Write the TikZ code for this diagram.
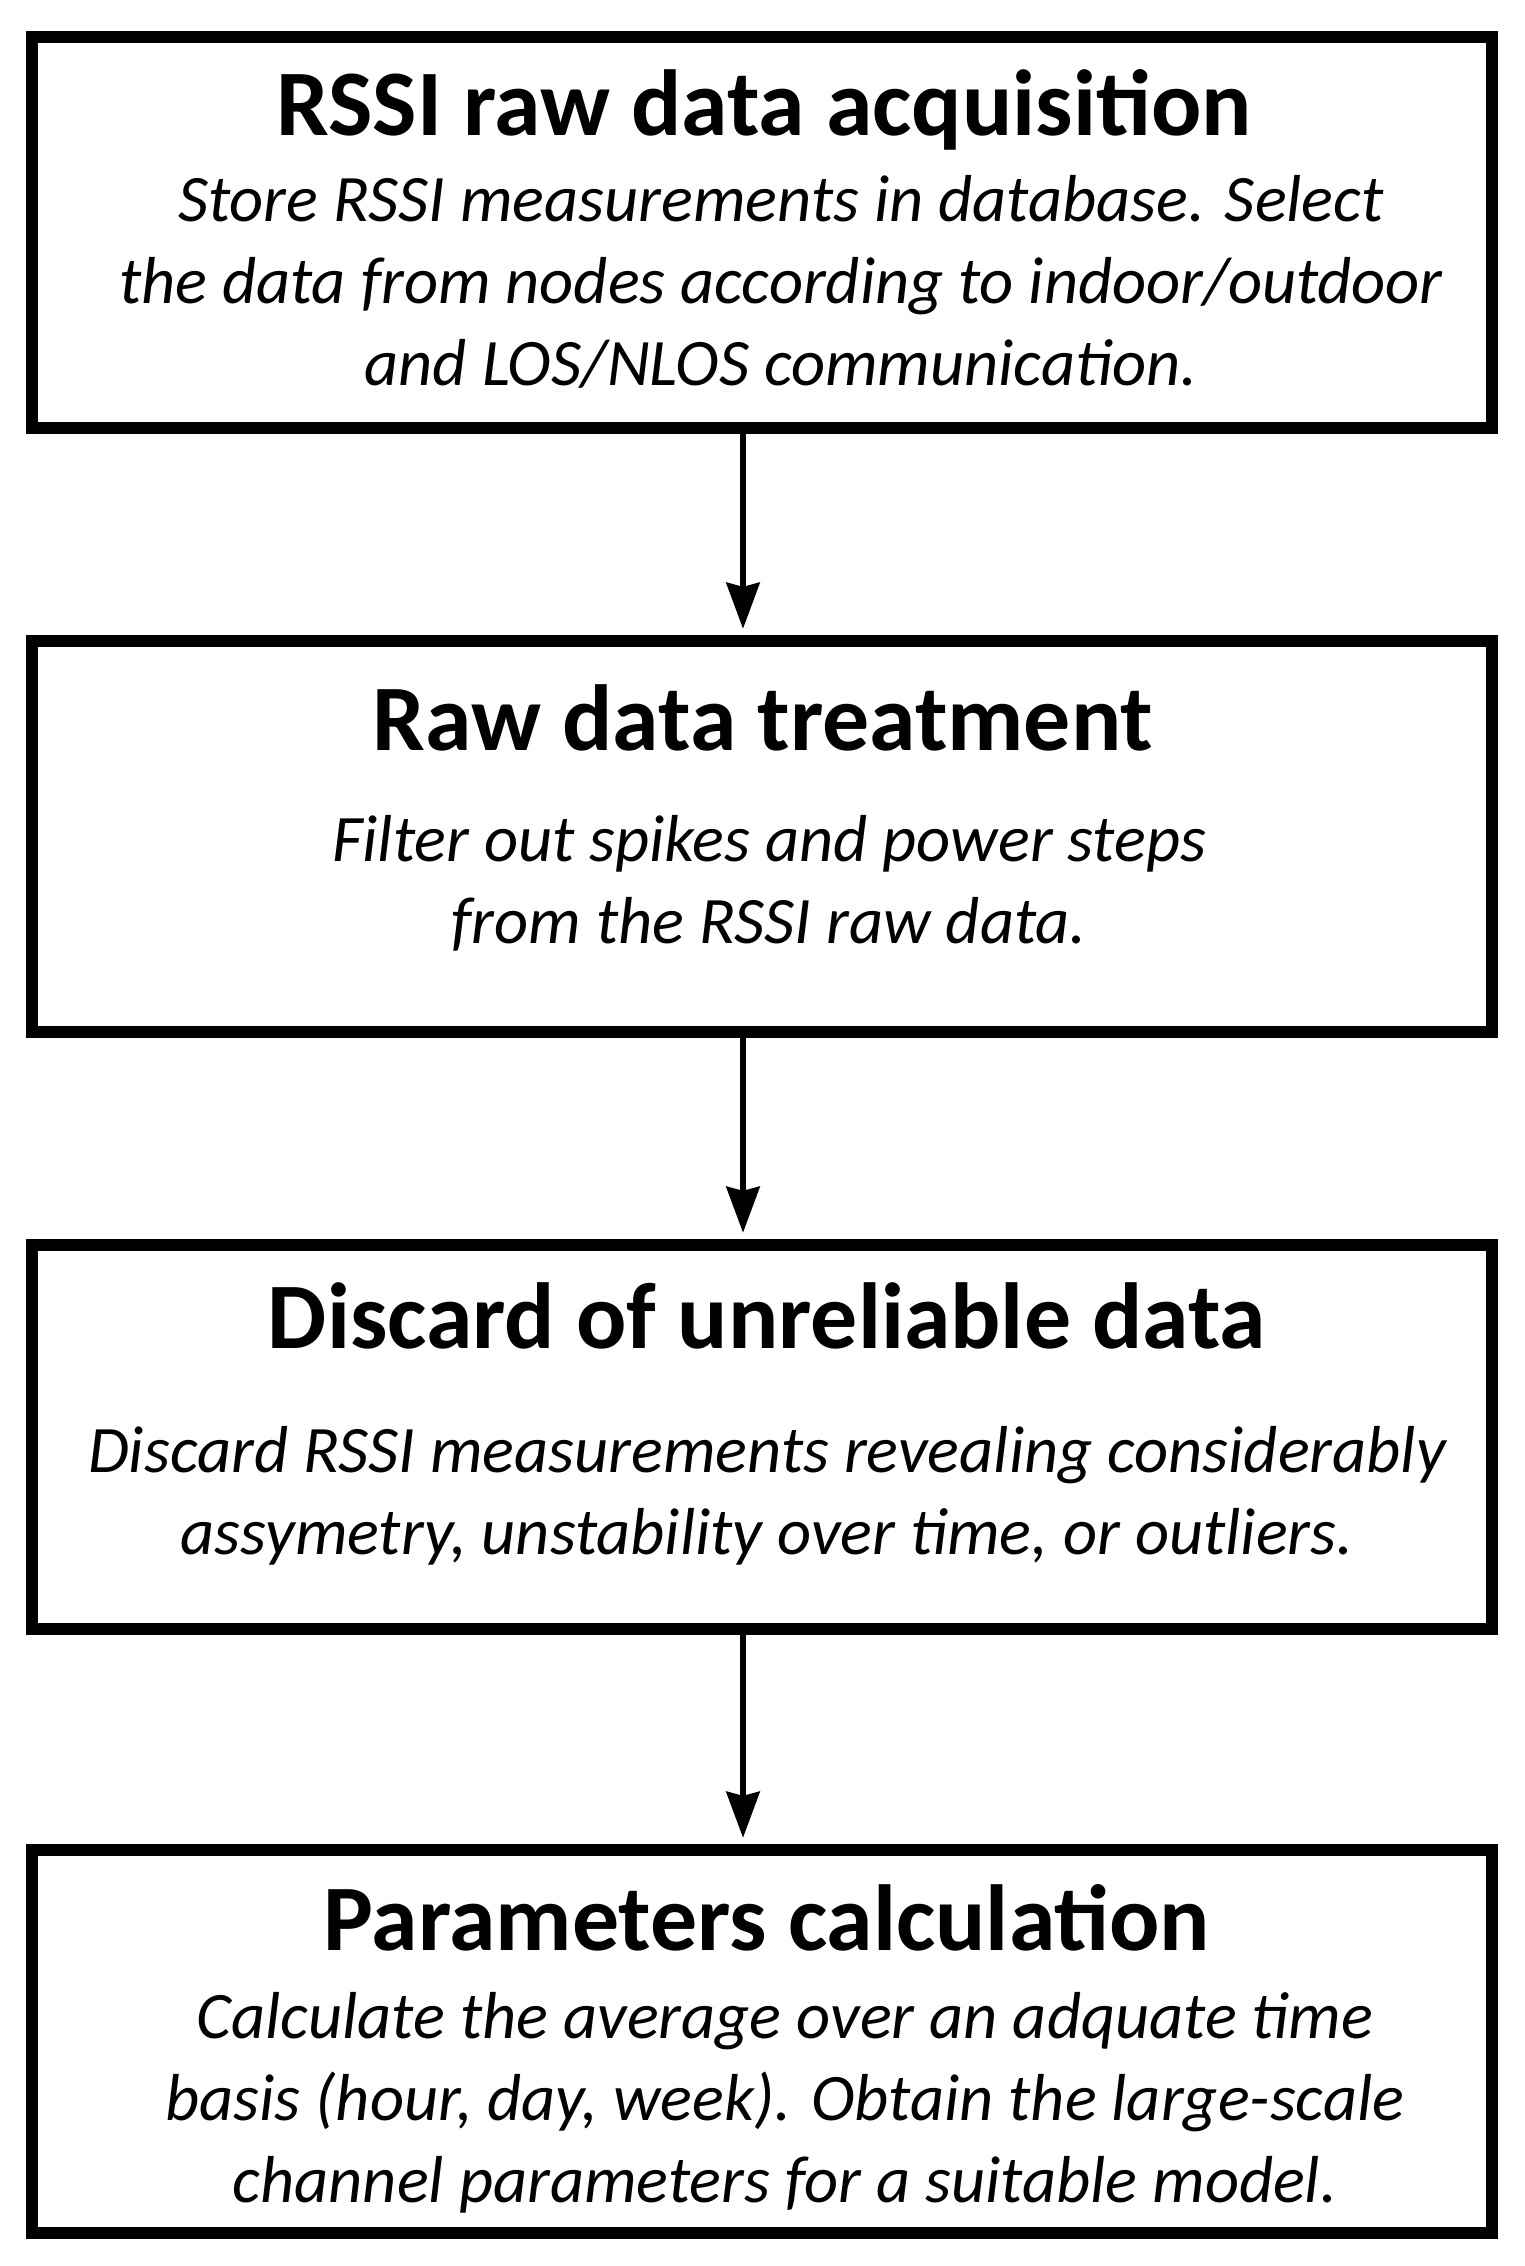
\documentclass[tikz,border=0pt]{standalone}
\usepackage{fontspec}
\setmainfont{Carlito}
\usepackage{tikz}
\usetikzlibrary{arrows.meta}

\begin{document}
\begin{tikzpicture}[
  stage/.style={draw, line width=3.5pt, minimum width=14.6cm, inner sep=0pt},
  stagetitle/.style={anchor=base, inner sep=0pt, font=\fontsize{26.7}{30}\selectfont\bfseries},
  stagetext/.style={anchor=base, inner sep=0pt, align=center, font=\fontsize{18.9}{23.3}\selectfont\itshape},
  flow/.style={line width=1.85pt, -{Stealth[length=0.46cm, width=0.33cm, inset=0.04cm]}, shorten >=0.06cm}
]

% Define coordinates for easier positioning
\useasboundingbox (0,0) rectangle (15.24,-22.66);
\coordinate (C1) at (7.62,-2.325);
\coordinate (C2) at (7.62,-8.365);
\coordinate (C3) at (7.62,-14.37);
\coordinate (C4) at (7.62,-20.415);

% Draw the stage boxes
\node[stage, minimum height=3.91cm] (acq) at (C1) {};
\node[stage, minimum height=3.91cm] (treat) at (C2) {};
\node[stage, minimum height=3.84cm] (discard) at (C3) {};
\node[stage, minimum height=3.83cm] (params) at (C4) {};

% Add titles
\node[stagetitle] (acqtitle) at (7.64,-1.36) {RSSI raw data acquisition};
\node[stagetitle] (treattitle) at (7.63,-7.50) {Raw data treatment};
\node[stagetitle] (discardtitle) at (7.67,-13.48) {Discard of unreliable data};
\node[stagetitle] (paramstitle) at (7.67,-19.50) {Parameters calculation};

% Add descriptions (base is the last line)
\node[stagetext] (acqtext) at (7.81,-3.85) {Store RSSI measurements in database. Select\\
  the data from nodes according to indoor/outdoor\\
  and LOS/NLOS communication.};
\node[stagetext] (treattext) at (7.69,-9.43) {Filter out spikes and power steps\\
  from the RSSI raw data.};
\node[stagetext] (discardtext) at (7.67,-15.54) {Discard RSSI measurements revealing considerably\\
  assymetry, unstability over time, or outliers.};
\node[stagetext] (paramstext) at (7.85,-22.02) {Calculate the average over an adquate time\\
  basis (hour, day, week). Obtain the large-scale\\
  channel parameters for a suitable model.};

% Draw the arrows between the stages
\draw[flow] ([xshift=-0.19cm]acq.south) -- ([xshift=-0.19cm]treat.north);
\draw[flow] ([xshift=-0.19cm]treat.south) -- ([xshift=-0.19cm]discard.north);
\draw[flow] ([xshift=-0.19cm]discard.south) -- ([xshift=-0.19cm]params.north);
\end{tikzpicture}
\end{document}
